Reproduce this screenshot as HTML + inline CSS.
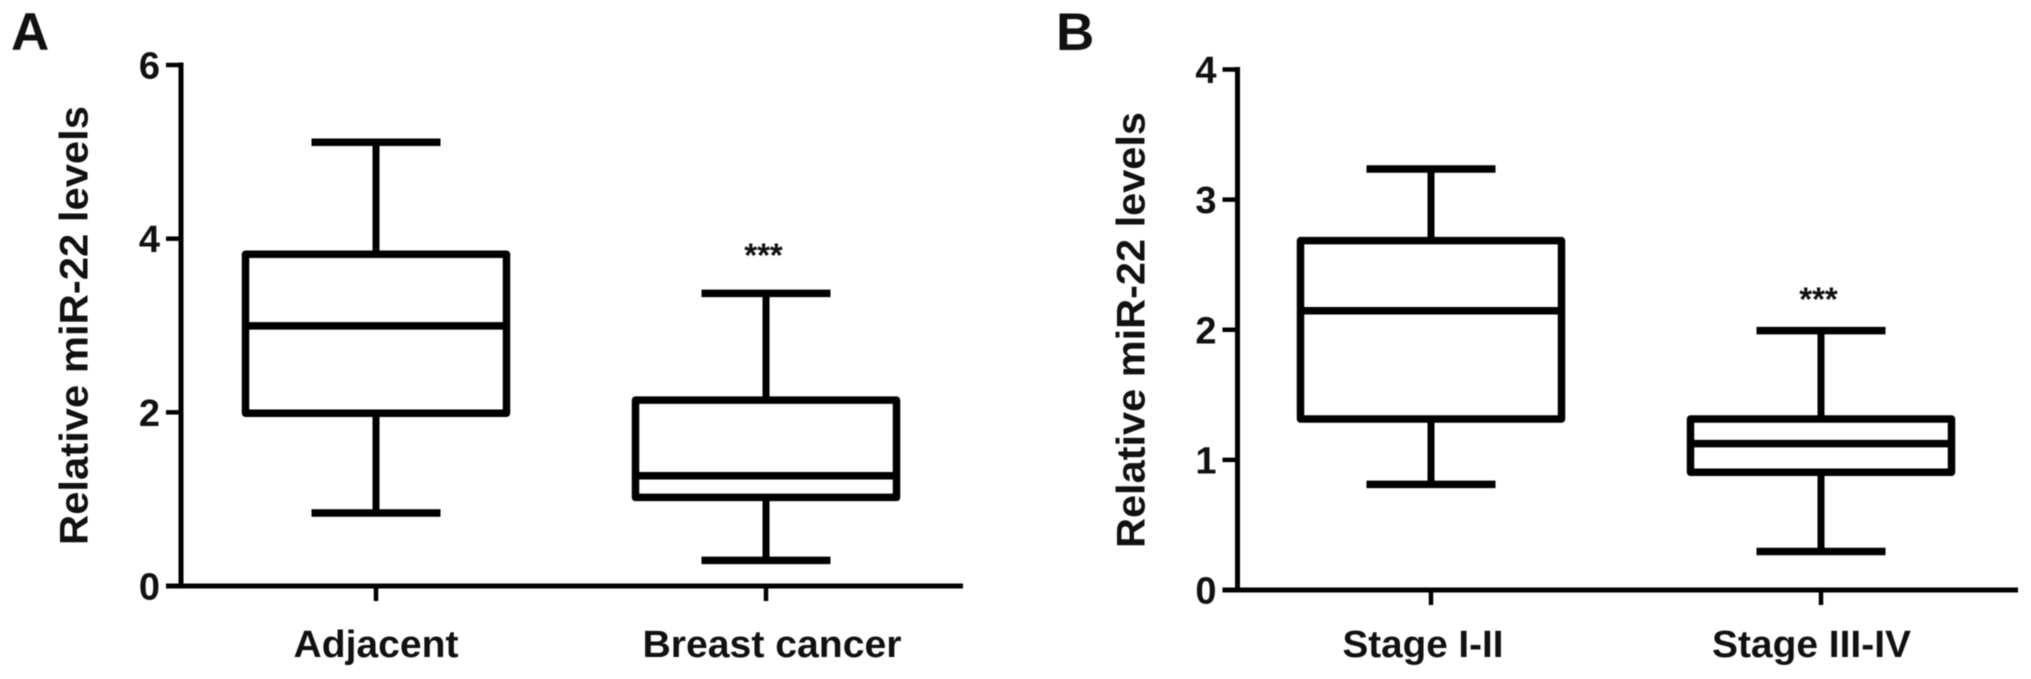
<!DOCTYPE html>
<html>
<head>
<meta charset="utf-8">
<title>Relative miR-22 levels</title>
<style>
html,body{margin:0;padding:0;background:#fff;width:2031px;height:679px;overflow:hidden}
svg{display:block;filter:blur(0.6px)}
text{font-family:"Liberation Sans",sans-serif;font-weight:bold;fill:#111}
</style>
</head>
<body>
<svg id="figure" xmlns="http://www.w3.org/2000/svg" width="2031" height="679" viewBox="0 0 2031 679">
  <rect x="0" y="0" width="2031" height="679" fill="#fff"/>
  <text x="11" y="50" font-size="53">A</text>
  <text x="1056" y="50" font-size="53">B</text>
  <text transform="translate(87.5 325.5) rotate(-90)" text-anchor="middle" font-size="40" textLength="439" lengthAdjust="spacingAndGlyphs">Relative miR-22 levels</text>
  <text transform="translate(1144.5 330) rotate(-90)" text-anchor="middle" font-size="40" textLength="436" lengthAdjust="spacingAndGlyphs">Relative miR-22 levels</text>
  <g id="panel-a"></g>
  <g id="panel-b"></g>
</svg>
<script>
const panelACategories = ["Adjacent", "Breast cancer"];
const panelATicks = [0, 2, 4, 6];
const panelAWhiskerLow = [0.84, 0.295];
const panelAQ1 = [1.99, 1.02];
const panelAMedian = [2.995, 1.27];
const panelAQ3 = [3.82, 2.14];
const panelAWhiskerHigh = [5.11, 3.37];
const panelASignificance = ["", "***"];

const panelBCategories = ["Stage I-II", "Stage III-IV"];
const panelBTicks = [0, 1, 2, 3, 4];
const panelBWhiskerLow = [0.812, 0.296];
const panelBQ1 = [1.314, 0.905];
const panelBMedian = [2.146, 1.125];
const panelBQ3 = [2.685, 1.314];
const panelBWhiskerHigh = [3.235, 1.993];
const panelBSignificance = ["", "***"];

const NS = "http://www.w3.org/2000/svg";

function make(parent, tag, attrs, content) {
  const el = document.createElementNS(NS, tag);
  for (const k in attrs) el.setAttribute(k, attrs[k]);
  if (content !== undefined) el.textContent = content;
  parent.appendChild(el);
  return el;
}

function line(parent, x1, y1, x2, y2, width) {
  return make(parent, "line", {x1: x1, y1: y1, x2: x2, y2: y2, stroke: "#000", "stroke-width": width});
}

function drawPanel(root, frame, categories, ticks, low, q1, median, q3, high, stars) {
  const yMax = ticks[ticks.length - 1];
  const yScale = function (v) { return frame.y0 - (v / yMax) * (frame.y0 - frame.yTop); };
  const xScale = function (i) { return frame.xFirst + i * frame.xStep; };

  const yAxis = line(root, frame.axisX, yScale(yMax) - 2.5, frame.axisX, frame.y0 + 2.5, 5);
  
  

  const xAxis = line(root, frame.axisX - 15, frame.y0, frame.axisEnd, frame.y0, 5);
  
  

  ticks.forEach(function (t) {
    const mark = line(root, frame.axisX - 15, yScale(t), frame.axisX, yScale(t), 4.5);
    
    

    const label = make(root, "text", {x: frame.axisX - 21, y: yScale(t) + 13.5, "text-anchor": "end", "font-size": 38}, String(t));
    
    
  });

  categories.forEach(function (name, i) {
    const cx = xScale(i);

    const tick = line(root, cx, frame.y0, cx, frame.y0 + 15, 4.5);
    
    

    const catLabel = make(root, "text", {
      x: cx + frame.labelShift[i], y: frame.labelY, "text-anchor": "middle", "font-size": 38,
      textLength: frame.labelWidth[i], lengthAdjust: "spacingAndGlyphs"
    }, name);
    
    

    const whiskerHigh = line(root, cx, yScale(high[i]), cx, yScale(q3[i]), 7);
    
    

    const whiskerLow = line(root, cx, yScale(q1[i]), cx, yScale(low[i]), 7);
    
    

    const capHigh = line(root, cx - frame.capHalf, yScale(high[i]), cx + frame.capHalf, yScale(high[i]), 7.5);
    
    

    const capLow = line(root, cx - frame.capHalf, yScale(low[i]), cx + frame.capHalf, yScale(low[i]), 7.5);
    
    

    const box = make(root, "rect", {
      x: cx - frame.boxHalf, y: yScale(q3[i]),
      width: frame.boxHalf * 2, height: yScale(q1[i]) - yScale(q3[i]),
      fill: "none", stroke: "#000", "stroke-width": 7.5, "stroke-linejoin": "round"
    });
    
    

    const med = line(root, cx - frame.boxHalf, yScale(median[i]), cx + frame.boxHalf, yScale(median[i]), 7.5);
    
    

    if (stars[i]) {
      const star = make(root, "text", {
        x: cx + frame.starShift, y: yScale(high[i]) - frame.starGap, "text-anchor": "middle", "font-size": 33
      }, stars[i]);
      
      
    }
  });
}

drawPanel(document.getElementById("panel-a"),
  {axisX: 181, axisEnd: 963, y0: 586, yTop: 65, xFirst: 376, xStep: 390, boxHalf: 130.5, capHalf: 64.5,
   labelY: 657, labelShift: [0, 6], labelWidth: [165, 259], starShift: -2.5, starGap: 27},
  panelACategories, panelATicks, panelAWhiskerLow, panelAQ1, panelAMedian, panelAQ3, panelAWhiskerHigh, panelASignificance);

drawPanel(document.getElementById("panel-b"),
  {axisX: 1237.5, axisEnd: 2018, y0: 590, yTop: 69.5, xFirst: 1431, xStep: 390, boxHalf: 130.5, capHalf: 64.5,
   labelY: 657, labelShift: [-8, -9.5], labelWidth: [161, 199], starShift: -2.5, starGap: 20},
  panelBCategories, panelBTicks, panelBWhiskerLow, panelBQ1, panelBMedian, panelBQ3, panelBWhiskerHigh, panelBSignificance);
</script>
</body>
</html>
